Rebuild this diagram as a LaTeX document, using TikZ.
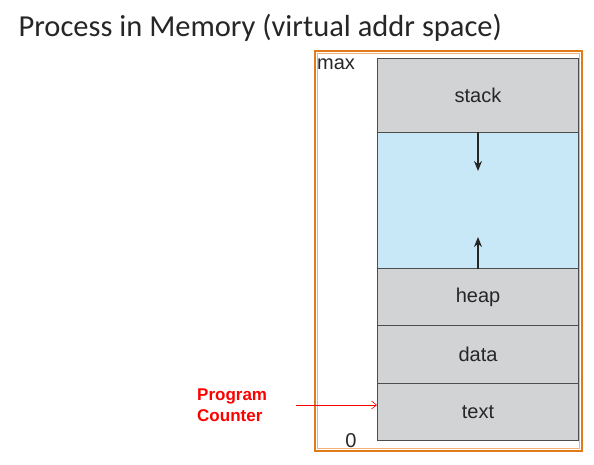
\documentclass[tikz,border=0pt]{standalone}
\usepackage{fontspec}
\setmainfont{Liberation Sans}
\newfontfamily\titlefont{Carlito}
\usetikzlibrary{arrows.meta}
\definecolor{seggray}{HTML}{D1D3D4}
\definecolor{segblue}{HTML}{C8E8F8}
\definecolor{segline}{HTML}{4D4D4D}
\definecolor{frameout}{HTML}{E07B1A}
\definecolor{framein}{HTML}{F2B27A}
\definecolor{pcred}{HTML}{FF0000}
\tikzset{
  seg/.style={draw=segline, line width=1pt, minimum width=201pt, inner sep=0pt, anchor=north west, font=\fontsize{20}{22}\selectfont, text=black!85},
  graySeg/.style={seg, fill=seggray},
  blueSeg/.style={seg, fill=segblue},
  growarrow/.style={line width=1.6pt, black!85, -{Stealth[length=10pt,width=8pt]}},
}
\begin{document}
\begin{tikzpicture}[x=1pt,y=-1pt]
\useasboundingbox (0,0) rectangle (594,464);
% frame
\draw[frameout, line width=1.2pt] (315,51) rectangle (582,451);
\draw[framein, line width=1pt] (317.5,53.5) rectangle (579.5,448.5);
% title
\node[anchor=west, font=\titlefont\fontsize{30.5}{32}\selectfont, text=black!85] (title) at (15,28) {Process in Memory (virtual addr space)};
% segments
\node[graySeg, minimum height=74pt] (stack) at (377,58) {stack};
\node[blueSeg, minimum height=136pt] (free) at (377,132) {};
\node[graySeg, minimum height=57pt] (heap) at (377,268) {heap};
\node[graySeg, minimum height=58pt] (data) at (377,325) {data};
\node[graySeg, minimum height=57pt] (textseg) at (377,383) {text};
% growth arrows
\coordinate (downtip) at ([yshift=-39pt]free.north);
\coordinate (uptip) at ([yshift=32pt]free.south);
\draw[growarrow] (free.north) -- (downtip);
\draw[growarrow] (free.south) -- (uptip);
% labels
\node[anchor=west, inner sep=0pt, font=\fontsize{20}{22}\selectfont, text=black!85] (max) at (317,64) {max};
\node[inner sep=0pt, font=\fontsize{20}{22}\selectfont, text=black!85] (zero) at (351,441) {0};
\node[anchor=west, align=left, inner sep=0pt, font=\bfseries\fontsize{17}{20.5}\selectfont, text=pcred] (pc) at (197,405) {Program\\Counter};
\coordinate (pcs) at (296,405);
\draw[pcred, line width=0.6pt, -{Straight Barb[length=5pt,width=8pt]}] (pcs) -- (pcs -| textseg.west);
\end{tikzpicture}
\end{document}
